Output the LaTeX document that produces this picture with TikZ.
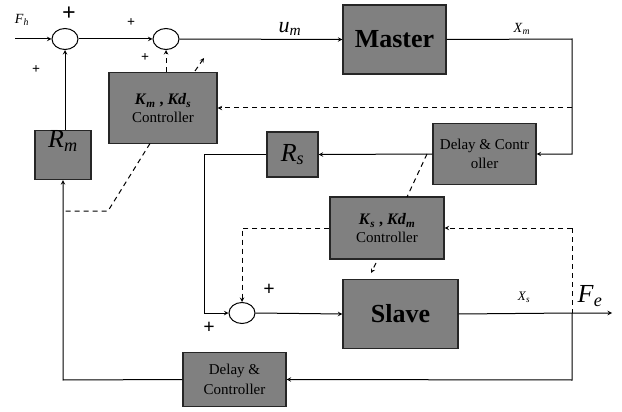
\documentclass[tikz,border=0pt]{standalone}
\usepackage{fontspec}
\setmainfont{LiberationSerif}[Extension=.ttf,UprightFont=*-Regular,BoldFont=*-Bold,ItalicFont=*-Italic,BoldItalicFont=*-BoldItalic]
\usetikzlibrary{shapes.geometric}
\newcommand{\sym}[2]{\textit{#1}\textsubscript{\textit{#2}}}
\newcommand{\fsz}[1]{\rmfamily\fontsize{#1}{#1}\selectfont}
\begin{document}
\begin{tikzpicture}[x=1pt,y=-1pt,>=stealth,line width=1pt,font=\rmfamily,
    blk/.style={draw=black!85,fill=black!50,line width=1.2pt,inner sep=0pt,align=center},
    sumn/.style={ellipse,draw=black,fill=white,inner sep=0pt,minimum width=26pt,minimum height=21pt},
    dsh/.style={dash pattern=on 5pt off 4pt},
    sig/.style={inner sep=0pt}]
  \useasboundingbox (0,0) rectangle (622,412);

  % summing points
  \node (sh) at (65,39) [sumn] {};
  \node (sm) at (166,39) [sumn] {};
  \node (ss) at (242,313) [sumn] {};

  % blocks
  \node (mst) at (394.5,39.5) [blk,minimum width=103pt,minimum height=69pt] {\fsz{26}\textbf{Master}};
  \node (kmc) at (163,108) [blk,minimum width=108pt,minimum height=71pt]
    {\fsz{16}\textbf{\textit{K}\textsubscript{\textit{m}} , \textit{Kd}\textsubscript{\textit{s}}}\\[4pt]\fsz{15}Controller};
  \node (rm) at (63,155) [blk,minimum width=56pt,minimum height=49pt] {};
  \node at (63,141) [sig] {\fsz{26}\sym{R}{m}};
  \node (rs) at (292.5,154.5) [blk,minimum width=51pt,minimum height=45pt] {\fsz{26}\sym{R}{s}};
  \node (dcm) at (484.5,154) [blk,minimum width=103pt,minimum height=61pt] {\fsz{15}Delay \& Contr\\[5pt]\fsz{15}oller};
  \node (ksc) at (387,228) [blk,minimum width=114pt,minimum height=62pt]
    {\fsz{16}\textbf{\textit{K}\textsubscript{\textit{s}} , \textit{Kd}\textsubscript{\textit{m}}}\\[4pt]\fsz{15}Controller};
  \node (slv) at (400.5,314) [blk,minimum width=115pt,minimum height=69pt] {\fsz{26}\textbf{Slave}};
  \node (dcs) at (234.5,379.5) [blk,minimum width=103pt,minimum height=54pt] {\fsz{15}Delay \&\\[5pt]\fsz{15}Controller};

  % corner points
  \coordinate (fin) at (15,39);
  \coordinate (xm) at (572,39);
  \coordinate (xs) at (572,313);
  \coordinate (fe) at (612,313);
  \coordinate (lb) at (572,380);
  \coordinate (ll) at (63,380);

  % labels
  \node (lfh) at (22,20) [sig] {\fsz{14}\sym{F}{h}};
  \node (pa) at (69,14) [sig] {\fsz{24}\textbf{+}};
  \node (pb) at (36,70) [sig] {\fsz{14}\textbf{+}};
  \node (pc) at (131,23) [sig] {\fsz{14}\textbf{+}};
  \node (pd) at (145,58) [sig] {\fsz{14}\textbf{+}};
  \node (lum) at (290,29) [sig] {\fsz{22}\sym{u}{m}};
  \node (lxm) at (522,29) [sig] {\fsz{14}\sym{X}{m}};
  \node (lxs) at (524,297) [sig] {\fsz{13}\sym{X}{s}};
  \node (lfe) at (590,296) [sig] {\fsz{26}\sym{F}{e}};
  \node (pe) at (269,290) [sig] {\fsz{20}\textbf{+}};
  \node (pf) at (209,328) [sig] {\fsz{20}\textbf{+}};

  % master side
  \draw[->] (fin) -- (sh.west);
  \draw[->] (sh.east) -- (sm.west);
  \draw[->] (sm.east) -- (mst.west);
  \draw[->] (mst.east) -- (xm) -- (xm |- dcm.east) -- (dcm.east);
  \draw[->] (rm.north -| sh.south) -- (sh.south);
  \draw[->, dsh] (572,108) -- (kmc.east);
  \draw[->, dsh] (kmc.north -| sm.south) -- (sm.south);
  \draw[->, dsh] (195,71) -- (204,58);
  \draw[dsh] (150,143.5) -- (108,211) -- (63,211);

  % slave side
  \draw[->] (dcm.west) -- (rs.east);
  \draw[->] (rs.west) -- (204,154.5) -- (204,313) -- (ss.west);
  \draw[dsh] (427,154) -- (407,197);
  \draw[->, dsh] (572,228) -- (ksc.east);
  \draw[->, dsh] (ksc.west) -- (ksc.west -| ss.north) -- (ss.north);
  \draw[->, dsh] (376,263) -- (371,273);
  \draw[dsh] (572,228) -- (xs);
  \draw[->] (ss.east) -- (slv.west);
  \draw[->] (slv.east) -- (xs) -- (fe);
  \draw[->] (xs) -- (lb) -- (dcs.east);
  \draw[->] (dcs.west) -- (ll) -- (rm.south);
\end{tikzpicture}
\end{document}
